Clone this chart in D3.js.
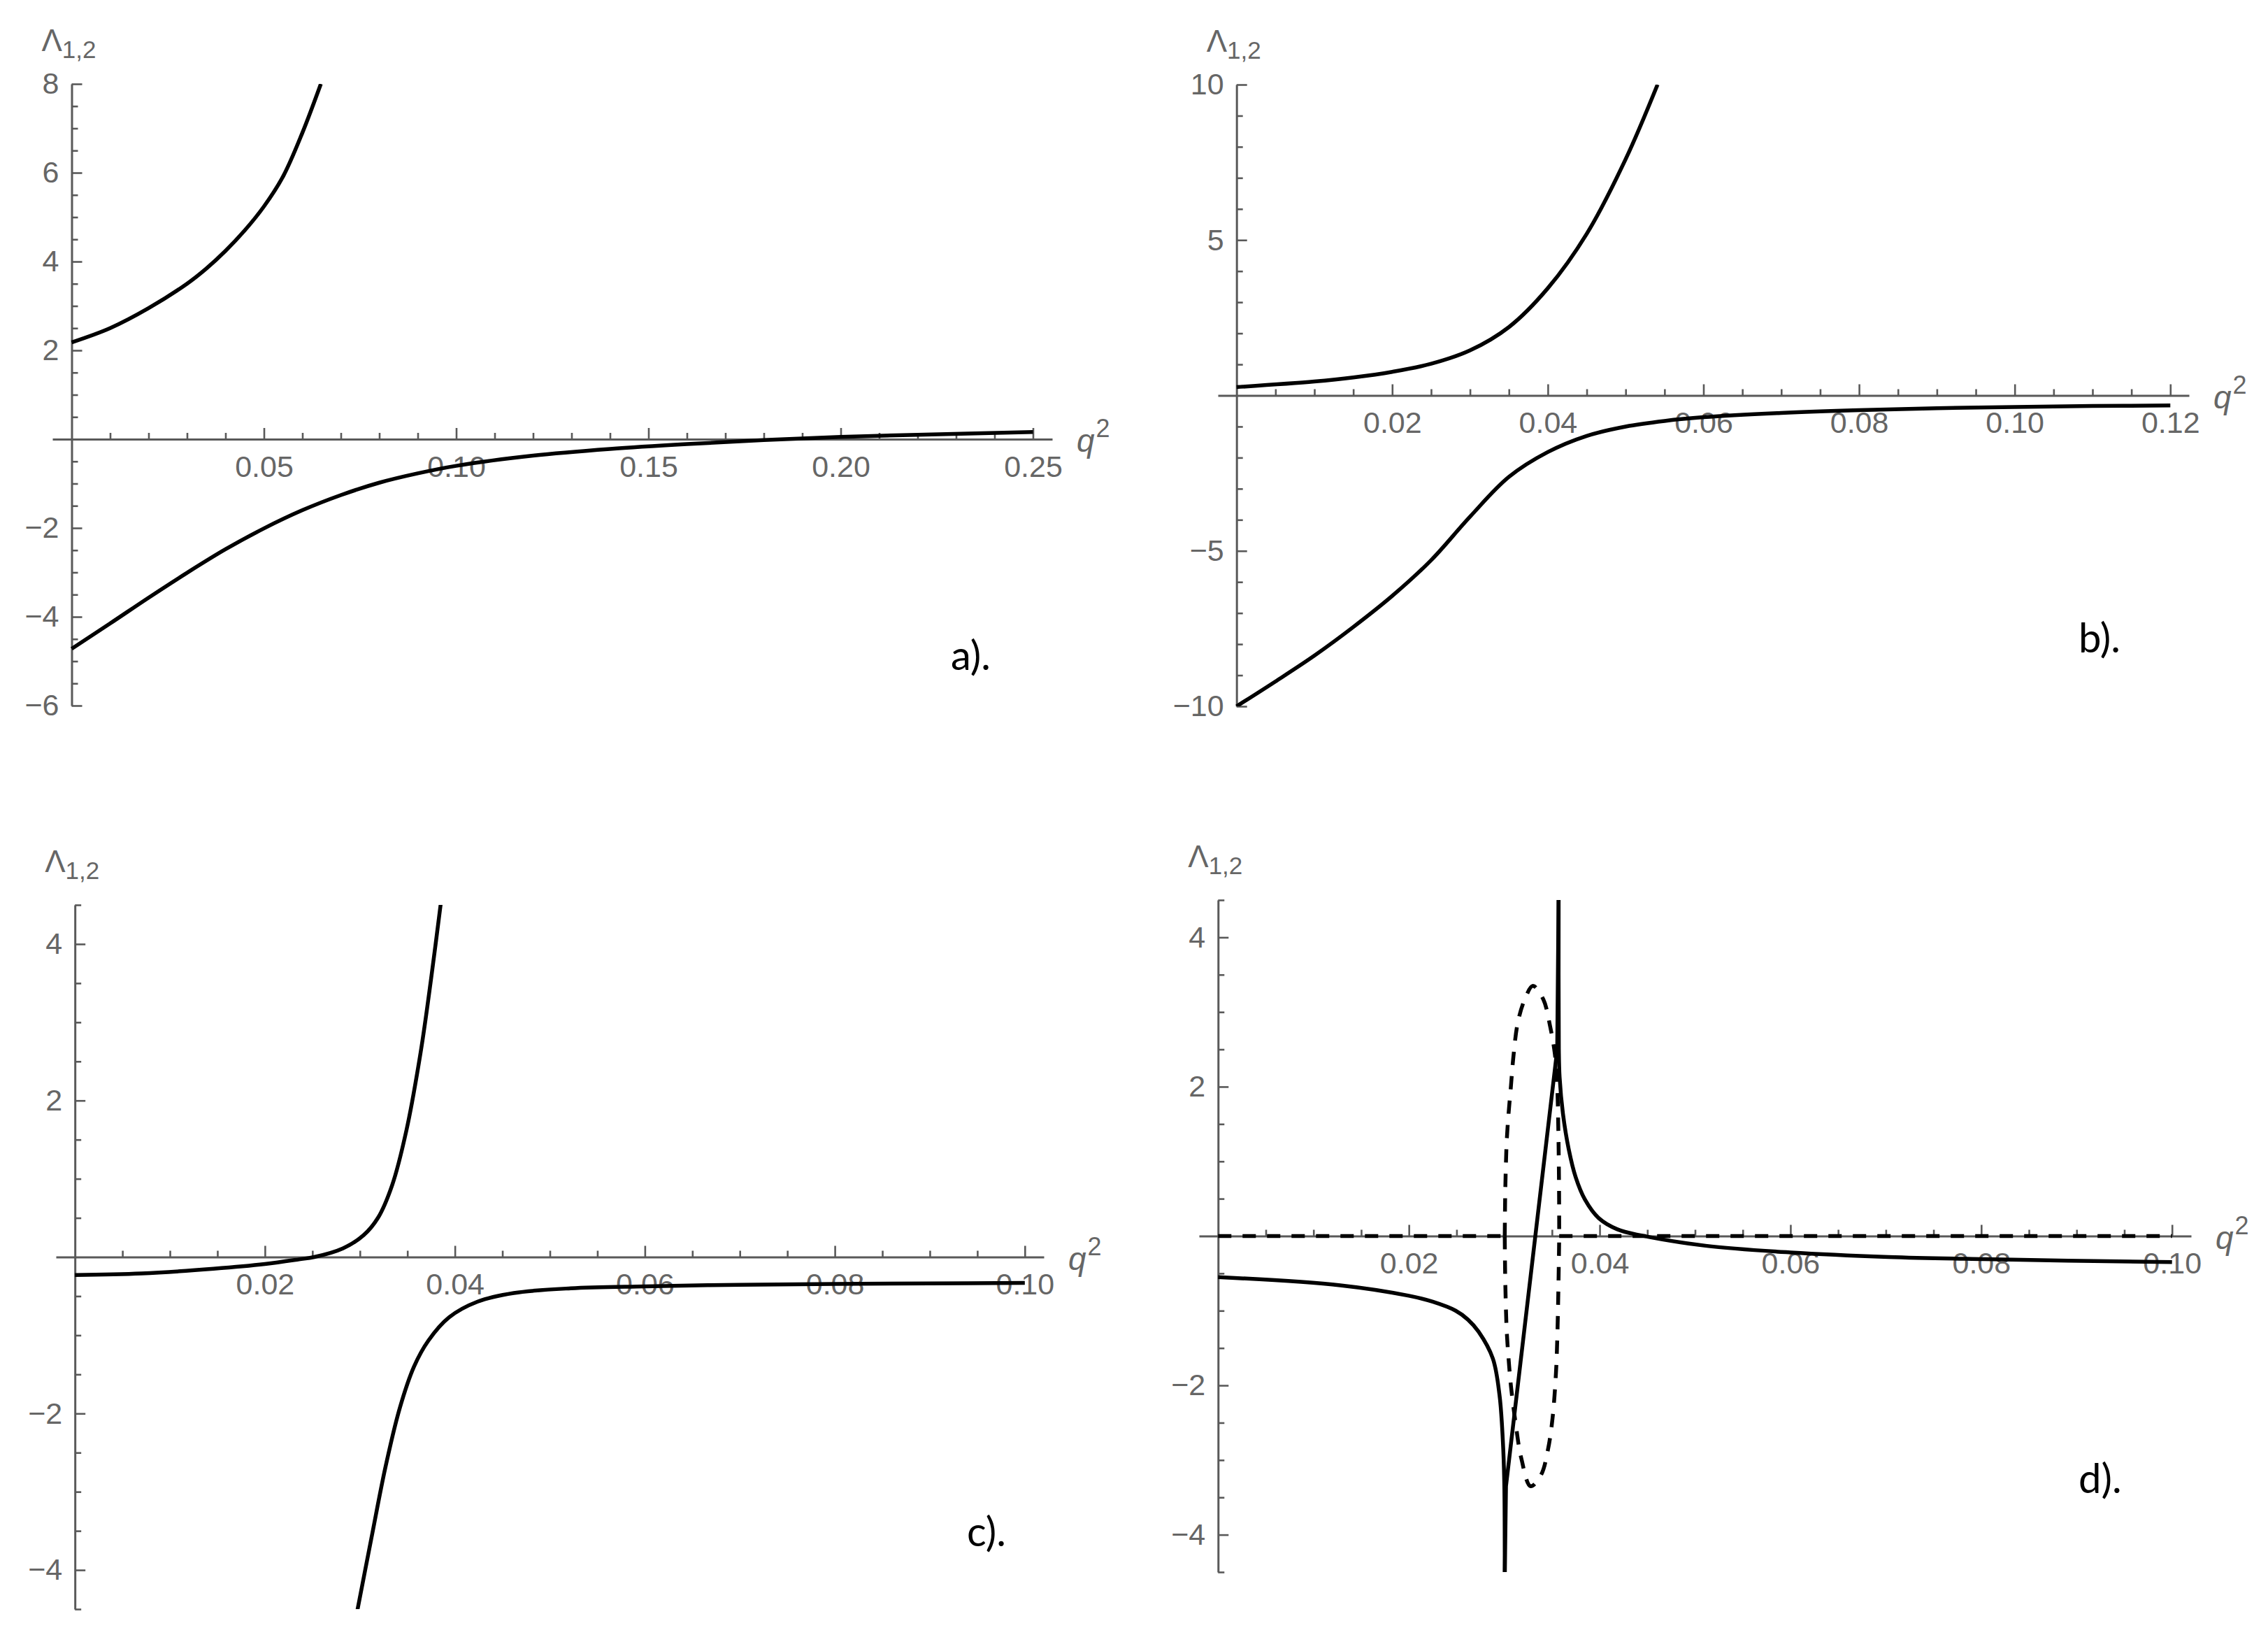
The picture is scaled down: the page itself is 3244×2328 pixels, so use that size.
<!DOCTYPE html>
<html><head><meta charset="utf-8">
<script src="https://cdn.jsdelivr.net/npm/d3@7"></script>
<style>
html,body{margin:0;padding:0;background:#fff;}
svg{display:block;background:#fff;}
</style></head><body>
<svg id="chart" width="3244" height="2328"></svg>
<script>
// ---------------- data ----------------
const aXTicks = [0.05, 0.10, 0.15, 0.20, 0.25];
const aYTicks = [-6, -4, -2, 2, 4, 6, 8];
const aUpper = [[0,2.18],[0.01,2.50],[0.02,2.95],[0.03,3.50],[0.035,3.84],[0.04,4.24],[0.045,4.70],[0.05,5.24],[0.055,5.92],[0.06,6.90],[0.0648,8.0]];
const aLower = [[0,-4.72],[0.01,-4.15],[0.02,-3.57],[0.03,-3.01],[0.04,-2.48],[0.05,-2.01],[0.06,-1.60],[0.07,-1.26],[0.08,-0.98],[0.09,-0.77],[0.10,-0.60],[0.12,-0.37],[0.14,-0.22],[0.16,-0.11],[0.18,-0.02],[0.20,0.05],[0.22,0.10],[0.25,0.16]];

const bXTicks = [0.02, 0.04, 0.06, 0.08, 0.10, 0.12];
const bYTicks = [-10, -5, 5, 10];
const bUpper = [[0,0.27],[0.01,0.45],[0.015,0.58],[0.02,0.76],[0.025,1.02],[0.03,1.45],[0.035,2.2],[0.04,3.45],[0.045,5.2],[0.05,7.6],[0.0541,10]];
const bLower = [[0,-10],[0.005,-9.2],[0.01,-8.37],[0.015,-7.45],[0.02,-6.45],[0.025,-5.3],[0.03,-3.9],[0.035,-2.62],[0.04,-1.82],[0.045,-1.3],[0.05,-1.0],[0.055,-0.82],[0.06,-0.7],[0.07,-0.56],[0.08,-0.47],[0.09,-0.41],[0.10,-0.37],[0.11,-0.34],[0.12,-0.32]];

const cXTicks = [0.02, 0.04, 0.06, 0.08, 0.10];
const cYTicks = [-4, -2, 2, 4];
const cUpper = [[0,-0.23],[0.007,-0.21],[0.0146,-0.15],[0.02,-0.09],[0.0236,-0.03],[0.0252,0],[0.0282,0.11],[0.0304,0.28],[0.0319,0.50],[0.0334,0.92],[0.0349,1.62],[0.0364,2.62],[0.0375,3.56],[0.0386,4.6]];
const cLower = [[0.0296,-4.6],[0.0312,-3.6],[0.0327,-2.68],[0.0342,-1.93],[0.0357,-1.40],[0.0372,-1.07],[0.0394,-0.77],[0.0424,-0.57],[0.0462,-0.46],[0.0522,-0.40],[0.06,-0.375],[0.07,-0.355],[0.08,-0.345],[0.09,-0.337],[0.10,-0.33]];

const dXTicks = [0.02, 0.04, 0.06, 0.08, 0.10];
const dYTicks = [-4, -2, 2, 4];
const dReLeft = [[0,-0.55],[0.0128,-0.66],[0.02,-0.8],[0.0225,-0.88],[0.0249,-1.0],[0.0262,-1.12],[0.0273,-1.28],[0.0288,-1.64],[0.0295,-2.13],[0.02985,-2.74],[0.0300,-3.3],[0.03005,-4.6]];
const dReLink = [[0.03005,-4.6],[0.03018,-3.35],[0.03555,2.5],[0.0357,4.6]];
const dReRight = [[0.0357,4.6],[0.03572,2.5],[0.0358,2.13],[0.03615,1.64],[0.03676,1.16],[0.03748,0.79],[0.03845,0.49],[0.0399,0.24],[0.04185,0.09],[0.04427,0.01],[0.0511,-0.13],[0.06,-0.22],[0.0703,-0.28],[0.0803,-0.31],[0.10,-0.35]];
const dImUpper = [[0.03005,0],[0.03009,0.49],[0.03016,0.91],[0.03026,1.28],[0.03045,1.64],[0.0307,2.01],[0.03094,2.38],[0.03142,2.86],[0.03215,3.17],[0.0330,3.35],[0.03409,3.17],[0.03482,2.80],[0.0353,2.44],[0.03555,2.01],[0.03567,1.40],[0.03574,0.67],[0.03576,0]];
const dImLower = [[0.03005,0],[0.03009,-0.49],[0.03016,-0.91],[0.03026,-1.28],[0.03045,-1.64],[0.0307,-2.01],[0.03118,-2.50],[0.03179,-2.98],[0.03276,-3.35],[0.03385,-3.20],[0.03458,-2.86],[0.03506,-2.44],[0.03542,-1.83],[0.03555,-1.40],[0.03567,-0.73],[0.03576,0]];
const dImZeroLeft = [[0,0],[0.03005,0]];
const dImZeroRight = [[0.03576,0],[0.10,0]];

const panelLabels = ["a).", "b).", "c).", "d)."];
const yTitleMain = "Λ", yTitleSub = "1,2";
const xTitleMain = "q", xTitleSup = "2";

// ---------------- layout ----------------
const svg = d3.select("#chart");
const AXIS = "#595959", LABEL = "#666666";
const FONT = "'Liberation Sans', Arial, sans-serif";

const panels = [
  {xDom:[0,0.25], xPad:0.005, xRange:[75,1505], yDom:[-6,8], yRange:[1009,120], xTicks:aXTicks, yTicks:aYTicks, xMinor:0.01, yMinor:0.5,
   label:panelLabels[0], labelPos:[1360,958],
   solid:[[aUpper,"smooth"],[aLower,"smooth"]], dashed:[]},
  {xDom:[0,0.12], xPad:0.0024, xRange:[1742,3131], yDom:[-10,10], yRange:[1010,121], xTicks:bXTicks, yTicks:bYTicks, xMinor:0.005, yMinor:1,
   label:panelLabels[1], labelPos:[2973,933],
   solid:[[bUpper,"smooth"],[bLower,"smooth"]], dashed:[]},
  {xDom:[0,0.10], xPad:0.002, xRange:[80,1493], yDom:[-4.5,4.5], yRange:[2301,1294], xTicks:cXTicks, yTicks:cYTicks, xMinor:0.005, yMinor:0.5,
   label:panelLabels[2], labelPos:[1383,2211],
   solid:[[cUpper,"smooth"],[cLower,"smooth"]], dashed:[]},
  {xDom:[0,0.10], xPad:0.002, xRange:[1715,3134], yDom:[-4.5,4.5], yRange:[2248,1287], xTicks:dXTicks, yTicks:dYTicks, xMinor:0.005, yMinor:0.5,
   label:panelLabels[3], labelPos:[2973,2135],
   solid:[[dReLeft,"smooth"],[dReLink,"linear"],[dReRight,"smooth"]],
   dashed:[[dImZeroLeft,"linear"],[dImZeroRight,"linear"],[dImUpper,"smooth"],[dImLower,"smooth"]]}
];

const fmtX = d3.format(".2f"), fmtY = d3.format("d");

panels.forEach((p, i) => {
  const g = svg.append("g");
  const x = d3.scaleLinear().domain([p.xDom[0]-p.xPad, p.xDom[1]+p.xPad]).range(p.xRange);
  const y = d3.scaleLinear().domain(p.yDom).range(p.yRange);
  const x0 = x(0), y0 = y(0);
  const eps = 1e-9;
  const isMajor = (v, arr) => arr.some(t => Math.abs(t - v) < eps);
  const xMinorVals = d3.range(1, Math.round(p.xDom[1]/p.xMinor)+1).map(k => +(k*p.xMinor).toFixed(6)).filter(v => !isMajor(v, p.xTicks));
  const yMinorVals = d3.range(Math.ceil(p.yDom[0]/p.yMinor), Math.floor(p.yDom[1]/p.yMinor)+1).map(k => +(k*p.yMinor).toFixed(6)).filter(v => Math.abs(v) > eps && !isMajor(v, p.yTicks));

  // minor ticks
  const xm = g.append("g").attr("transform", `translate(0,${y0})`)
    .call(d3.axisBottom(x).tickValues(xMinorVals).tickSize(-9).tickFormat(""));
  xm.select(".domain").remove();
  const ym = g.append("g").attr("transform", `translate(${x0},0)`)
    .call(d3.axisLeft(y).tickValues(yMinorVals).tickSize(-9).tickFormat(""));
  ym.select(".domain").remove();

  // major axes
  const xa = g.append("g").attr("transform", `translate(0,${y0})`)
    .call(d3.axisBottom(x).tickValues(p.xTicks).tickFormat(fmtX).tickSize(-16).tickSizeOuter(0).tickPadding(23));
  const ya = g.append("g").attr("transform", `translate(${x0},0)`)
    .call(d3.axisLeft(y).tickValues(p.yTicks).tickFormat(fmtY).tickSize(-15).tickSizeOuter(0).tickPadding(18));

  [xm, ym, xa, ya].forEach(sel => {
    sel.attr("font-family", FONT).attr("font-size", 43);
    sel.selectAll(".tick line").attr("stroke", AXIS).attr("stroke-width", 2.6);
    sel.selectAll(".domain").attr("stroke", AXIS).attr("stroke-width", 3);
    sel.selectAll(".tick text").attr("fill", LABEL);
  });

  // axis titles
  const yt = g.append("text").attr("x", x0 - 4).attr("y", y(p.yDom[1]) - 47)
    .attr("text-anchor", "middle").attr("font-family", FONT).attr("fill", LABEL);
  yt.append("tspan").attr("font-size", 44).text(yTitleMain);
  yt.append("tspan").attr("font-size", 35).attr("dy", 10).text(yTitleSub);

  const xt = g.append("text").attr("x", x.range()[1] + 35).attr("y", y0 + 18)
    .attr("font-family", FONT).attr("fill", LABEL);
  xt.append("tspan").attr("font-size", 46).attr("font-style", "italic").text(xTitleMain);
  xt.append("tspan").attr("font-size", 36).attr("dy", -21).attr("dx", 2).text(xTitleSup);

  // clip
  const cid = "clip" + i;
  svg.append("clipPath").attr("id", cid).append("rect")
    .attr("x", x.range()[0]).attr("width", x.range()[1] - x.range()[0])
    .attr("y", y(p.yDom[1])).attr("height", y(p.yDom[0]) - y(p.yDom[1]));
  const cg = g.append("g").attr("clip-path", `url(#${cid})`);

  const mk = kind => d3.line().x(d => x(d[0])).y(d => y(d[1]))
    .curve(kind === "smooth" ? d3.curveCatmullRom.alpha(0.5) : d3.curveLinear);

  p.dashed.forEach(([data, kind]) => {
    cg.append("path").datum(data).attr("d", mk(kind)).attr("fill", "none")
      .attr("stroke", "#000").attr("stroke-width", 5.5).attr("stroke-dasharray", "19 16");
  });
  p.solid.forEach(([data, kind]) => {
    cg.append("path").datum(data).attr("d", mk(kind)).attr("fill", "none")
      .attr("stroke", "#000").attr("stroke-width", 5.5).attr("stroke-linejoin", "round");
  });

  // panel label
  g.append("text").attr("x", p.labelPos[0]).attr("y", p.labelPos[1])
    .attr("font-family", "Lato, 'Open Sans', sans-serif").attr("font-size", 58)
    .attr("fill", "#000").text(p.label);
});
</script>
</body></html>
